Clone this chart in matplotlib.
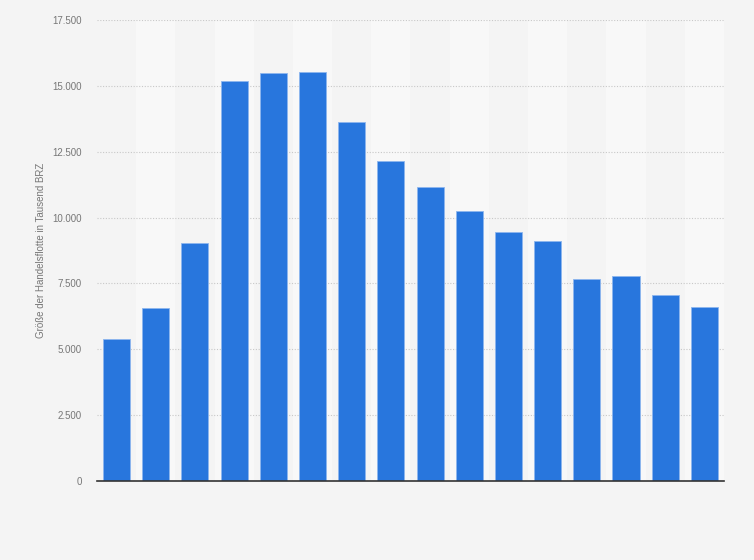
import matplotlib
matplotlib.use("Agg")
from matplotlib import pyplot as plt
import numpy as np

plt.rcParams['font.family'] = ['Liberation Sans', 'DejaVu Sans']

werte = [5400, 6580, 9050, 15190, 15470, 15510, 13610, 12160, 11170, 10260,
         9460, 9120, 7670, 7790, 7070, 6610]
y_ticks = [0, 2500, 5000, 7500, 10000, 12500, 15000, 17500]
y_label = "Größe der Handelsflotte in Tausend BRZ"

bg = "#f4f4f4"
band = "#f8f8f8"
blau = "#2876dd"

fig = plt.figure(figsize=(7.54, 5.6), dpi=100, facecolor=bg)
ax = fig.add_axes([0.1286, 0.1411, 0.8316, 0.8232])
ax.set_facecolor(bg)

n = len(werte)
x = np.arange(n)

# abwechselnde Spalten-Hintergründe
for i in range(1, n, 2):
    ax.axvspan(i - 0.5, i + 0.5, color=band, lw=0, zorder=0)

ax.bar(x, werte, width=0.69, color=blau, edgecolor="#8db6ee", linewidth=0.6,
       zorder=3)

ax.set_xlim(-0.5, n - 0.5)
ax.set_ylim(0, 17500)
ax.set_yticks(y_ticks)
ax.set_yticklabels([f"{v:,}".replace(",", ".") for v in y_ticks])
ax.set_xticks([])

ax.grid(axis="y", color="#c8c8c8", linestyle=(0, (1, 1.5)), linewidth=0.8,
        zorder=1)
ax.set_axisbelow(True)

for s in ["top", "right", "left"]:
    ax.spines[s].set_visible(False)
ax.spines["bottom"].set_color("#333333")
ax.spines["bottom"].set_linewidth(1.2)
ax.spines["bottom"].set_zorder(4)

ax.tick_params(axis="y", length=0, pad=11, labelsize=7, labelcolor="#777777")
ax.set_ylabel(y_label, fontsize=7, color="#777777", labelpad=4.5)

fig.savefig("out.png", dpi=100, facecolor=bg)
